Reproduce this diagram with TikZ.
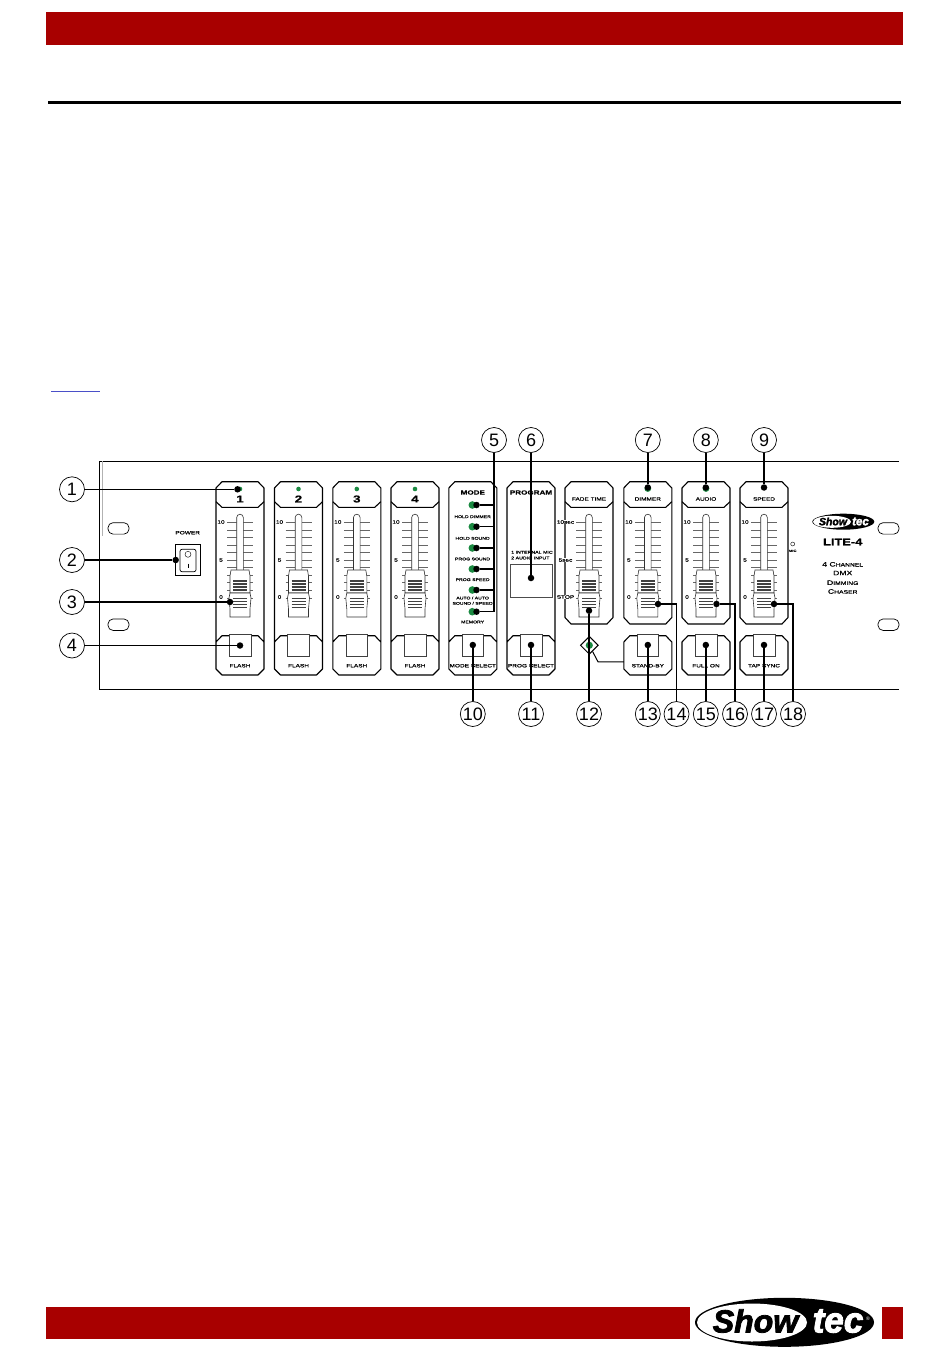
\documentclass[tikz,border=0pt]{standalone}
\usepackage{fontspec}
\setmainfont{Liberation Sans}
\newfontfamily\widefont[FakeStretch=1.35, FakeBold=.5]{Liberation Sans}
\newfontfamily\logofont[BoldItalicFeatures={FakeBold=2.5}]{Liberation Sans}
\usetikzlibrary{shapes.geometric}
\definecolor{barred}{HTML}{A80000}
\definecolor{ledgreen}{HTML}{1B8A42}
\definecolor{linkblue}{HTML}{4A4FC8}
\tikzset{
  callout/.style={draw, line width=.7pt, circle, minimum size=25pt, inner sep=0pt, fill=white, font=\fontsize{18}{18}\selectfont},
  tip/.style={circle, fill=black, minimum size=6.5pt, inner sep=0pt},
  lead/.style={line width=1.4pt},
  outline/.style={line width=1.1pt, line join=round},
  tinytext/.style={inner sep=0pt, text=black, font=\widefont\fontsize{4.8}{5}\selectfont},
  headtext/.style={inner sep=0pt, font=\widefont\bfseries\fontsize{6}{6}\selectfont},
  logotext/.style={inner sep=0pt, font=\logofont\bfseries\itshape},
  grip/.style={line width=1.2pt, black!75},
  pics/faderslider/.style n args={3}{code={
    \foreach \k in {0,...,10}
      \draw[black!60, line width=.5pt] (-13,522.3+\k*7.55) -- (13,522.3+\k*7.55);
    \node[tinytext] (-hi) at (-19,522) {#1};
    \node[tinytext] (-mid) at (-19,560) {#2};
    \node[tinytext] (-lo) at (-19,597) {#3};
    \draw[black!80, fill=white, line width=.6pt] (-3.3,572) -- (-3.3,517.5) arc[start angle=180, end angle=360, radius=3.3] -- (3.3,572);
    \draw[black!80, fill=white, line width=.6pt] (-9,570) -- (9,570) -- (10,576) -- (10,593) -- (-10,593) -- (-10,576) -- cycle;
    \draw[black!80, fill=white, line width=.6pt] (-10,593) -- (10,593) -- (11,598) -- (10,609) -- (10,617) -- (-10,617) -- (-10,609) -- (-11,598) -- cycle;
    \foreach \g in {581,584,587,590,598.5,601.5,604.5,607.5}
      \draw[grip] (-7,\g) -- (7,\g);
  }},
}

\begin{document}
\begin{tikzpicture}[x=1pt, y=-1pt]
    \useasboundingbox (0,0) rectangle (950,1359);
    % page furniture
    \fill[barred] (46,12.5) rectangle (903,44.7);
    \fill[black] (48.3,101.3) rectangle (901,103.6);
    \draw[linkblue, line width=1pt] (51,391.7) -- (100,391.7);
    \fill[barred] (46,1306.7) rectangle (690,1339);
    \fill[barred] (881.5,1306.7) rectangle (903,1339);
    \fill[black] (784.5,1322.3) ellipse[x radius=89.5, y radius=24.5];
    \fill[white] (752,1322.5) ellipse[x radius=55, y radius=19];
    \node[logotext, font=\logofont\bfseries\itshape\fontsize{32}{32}\selectfont] (biglogoa) at (755.5,1321) {Show};
    \node[logotext, text=white, font=\logofont\bfseries\itshape\fontsize{35}{35}\selectfont] (biglogob) at (838,1321) {\scalebox{1}[1.02]{tec}};
    \node[inner sep=0pt, text=white, font=\fontsize{5}{5}\selectfont] (biglogoc) at (868,1319) {®};
    % front panel
    \draw[line width=.8pt] (899,461.3) -- (99.3,461.3) -- (99.3,689.3) -- (899,689.3);
    \draw[black!30, line width=.5pt] (102,461.3) -- (102,536);
    \foreach \sx/\sy in {108/522.7, 108/619, 878/522.7, 878/619}
      \draw[line width=.7pt, rounded corners=5pt] (\sx,\sy) rectangle (\sx+21,\sy+11.4);
    \node[tinytext] (powerlabel) at (187.7,532.7) {POWER};
    \draw[line width=.6pt] (175.3,544.3) rectangle (200.7,575.7);
    \draw[line width=.7pt, rounded corners=2pt] (180,549.3) rectangle (196,571.7);
    \draw[line width=.4pt] (188,554.3) circle (3);
    \draw[line width=.6pt] (188,563.5) -- (188,568);
    % strips with a foot section
    \foreach \n/\x in {1/216, 2/274.5, 3/332.8, 4/391, 5/448.8, 6/507}
      \draw[outline] (\x+6,481.7) -- (\x+42,481.7) -- (\x+48,488) -- (\x+48,669) -- (\x+42,675) -- (\x+6,675) -- (\x,669) -- (\x,488) -- cycle
        (\x,642) -- (\x+6,635.7) -- (\x+42,635.7) -- (\x+48,642);
    % strips with a separate foot box
    \foreach \n/\x in {7/565, 8/623.8, 9/682, 10/740}
      \draw[outline] (\x+6,481.7) -- (\x+42,481.7) -- (\x+48,488) -- (\x+48,617.5) -- (\x+42,624) -- (\x+6,624) -- (\x,617.5) -- (\x,488) -- cycle;
    \foreach \n/\x in {8/623.8, 9/682, 10/740}
      \draw[outline] (\x+6,635.7) -- (\x+42,635.7) -- (\x+48,642) -- (\x+48,669) -- (\x+42,675) -- (\x+6,675) -- (\x,669) -- (\x,642) -- cycle;
    % headers
    \foreach \n/\x in {1/216, 2/274.5, 3/332.8, 4/391, 7/565, 8/623.8, 9/682, 10/740}
      \draw[outline] (\x,501.7) -- (\x+6,507.3) -- (\x+42,507.3) -- (\x+48,501.7);
    % sliders
    \pic (sa) at (240,0) {faderslider={10}{5}{0}};
    \pic (sb) at (298.5,0) {faderslider={10}{5}{0}};
    \pic (sc) at (356.8,0) {faderslider={10}{5}{0}};
    \pic (sd) at (415,0) {faderslider={10}{5}{0}};
    \pic (se) at (589,0) {faderslider={}{}{}};
    \pic (sf) at (647.8,0) {faderslider={10}{5}{0}};
    \pic (sg) at (706,0) {faderslider={10}{5}{0}};
    \pic (sh) at (764,0) {faderslider={10}{5}{0}};
    \node[tinytext, fill=white] (fadehi) at (565.5,522) {10sec};
    \node[tinytext, fill=white] (fademid) at (565.5,560) {5sec};
    \node[tinytext, fill=white] (fadelo) at (565.5,597) {STOP};
    % buttons
    \foreach \x in {240,298.5,356.8,415,472.8,531,647.8,706,764}
      \draw[black!75, fill=white, line width=.6pt] (\x-10.8,634.3) rectangle (\x+10.8,656.7);
    % leds
    \foreach \x/\y/\r in {240/489/2.3, 298.5/489/2.3, 356.8/489/2.3, 415/489/2.3, 647.8/488.5/3.4, 706/488.5/3.4, 472.3/505/3.8, 472.3/526.7/3.8, 472.3/548/3.8, 472.3/569/3.8, 472.3/590/3.8, 472.3/611.7/3.8}
      \fill[ledgreen] (\x,\y) circle (\r);
    % channel headings
    \foreach \n/\x in {1/240, 2/298.5, 3/356.8, 4/415}
      \node[inner sep=0pt, font=\widefont\bfseries\fontsize{10}{10}\selectfont] (num\n) at (\x,499) {\n};
    \foreach \n/\x/\t in {fade/589/FADE TIME, dimmer/647.8/DIMMER, audio/706/AUDIO, speed/764/SPEED}
      \node[tinytext] (head\n) at (\x,499) {\t};
    \foreach \n/\x/\t in {a/240/FLASH, b/298.5/FLASH, c/356.8/FLASH, d/415/FLASH, e/472.8/MODE SELECT, f/531/PROG SELECT, g/647.8/STAND-BY, h/706/FULL ON, i/764/TAP SYNC}
      \node[tinytext] (foot\n) at (\x,665.7) {\t};
    \node[headtext] (modehead) at (472.8,492.5) {MODE};
    \node[headtext] (proghead) at (531,492.5) {PROGRAM};
    \foreach \n/\y/\t in {a/516.7/HOLD DIMMER, b/538.3/HOLD SOUND, c/559/PROG SOUND, d/579.7/PROG SPEED, e/598/{AUTO / AUTO}, f/603.3/{SOUND / SPEED}, g/622/MEMORY}
      \node[tinytext, font=\widefont\fontsize{3.8}{5}\selectfont] (modetext\n) at (472.6,\y) {\t};
    \node[tinytext, anchor=west, font=\widefont\fontsize{3.9}{5}\selectfont] (inputa) at (511,552.3) {1 INTERNAL MIC};
    \node[tinytext, anchor=west, font=\widefont\fontsize{3.9}{5}\selectfont] (inputb) at (511,558) {2 AUDIO INPUT};
    \draw[black!70, line width=.6pt] (510,564.3) rectangle (552,597);
    % stand-by indicator
    \node[diamond, draw, line width=1pt, fill=white, minimum size=18pt, inner sep=0pt] (standbyled) at (589.3,645.3) {};
    \fill[ledgreen] (589.3,645.3) circle (3.6);
    \coordinate (standbybend) at (598,661.8);
    \coordinate (standbyend) at (623.8,661.8);
    \draw[line width=1pt] (standbyled) -- (standbybend) -- (standbyend);
    % right hand side
    \draw[line width=.4pt] (792.7,544) circle (2);
    \node[tinytext, font=\widefont\fontsize{3}{3}\selectfont] (miclabel) at (792.7,550.8) {MIC};
    \fill[black] (843.3,521.7) ellipse[x radius=31, y radius=8];
    \fill[white] (832,521.8) ellipse[x radius=19, y radius=6];
    \node[logotext, font=\logofont\bfseries\itshape\fontsize{10.5}{10.5}\selectfont] (smalllogoa) at (833,521.5) {Show};
    \node[logotext, text=white, font=\logofont\bfseries\itshape\fontsize{11.5}{11.5}\selectfont] (smalllogob) at (860.5,521.5) {\scalebox{1}[1.02]{tec}};
    \node[inner sep=0pt, font=\widefont\bfseries\fontsize{9.5}{10}\selectfont] (litelabel) at (842.7,542) {LITE-4};
    \foreach \n/\y/\t in {a/564.3/{4 C\fontsize{5}{5}\selectfont HANNEL}, b/573/{DMX}, c/582.7/{D\fontsize{5}{5}\selectfont IMMING}, d/591.5/{C\fontsize{5}{5}\selectfont HASER}}
      \node[inner sep=0pt, text=black, font=\widefont\fontsize{6.4}{7}\selectfont] (desc\n) at (842.7,\y) {\t};
    % call-outs, left
    \node[callout] (c1) at (72,489.3) {1};
    \node[callout] (c2) at (72,560) {2};
    \node[callout] (c3) at (72,602) {3};
    \node[callout] (c4) at (72,645.5) {4};
    \node[tip] (d1) at (237.5,489.3) {};
    \node[tip] (d2) at (175.7,560) {};
    \node[tip] (d3) at (230,602) {};
    \node[tip] (d4) at (240,645.5) {};
    \foreach \n in {1,2,3,4}
      \draw[lead] (c\n) -- (d\n);
    % call-outs, top
    \node[callout] (c5) at (494,440) {5};
    \node[callout] (c6) at (531,440) {6};
    \node[callout] (c7) at (647.8,440) {7};
    \node[callout] (c8) at (705.8,440) {8};
    \node[callout] (c9) at (764,440) {9};
    \node[tip] (d6) at (531,578) {};
    \node[tip] (d7) at (647.8,487.5) {};
    \node[tip] (d8) at (705.8,487.5) {};
    \node[tip] (d9) at (764,487.5) {};
    \foreach \n in {6,7,8,9}
      \draw[lead] (c\n) -- (d\n);
    \foreach \n/\y in {a/505, b/526.7, c/548, d/569, e/590, f/611.7} {
      \node[tip] (d5\n) at (476.5,\y) {};
      \draw[lead] (d5\n) -- (d5\n -| c5);
    }
    \draw[lead] (c5) |- (d5f);
    % call-outs, bottom
    \foreach \n/\x/\y in {10/472.8/645, 11/531/645, 12/589/610.7, 13/647.8/645, 15/705.8/645, 17/764/645} {
      \node[callout] (c\n) at (\x,714) {\n};
      \node[tip] (d\n) at (\x,\y) {};
      \draw[lead] (c\n) -- (d\n);
    }
    \foreach \n/\x/\tx in {14/676.5/658, 16/735/716.5, 18/793/774} {
      \node[callout] (c\n) at (\x,714) {\n};
      \node[tip] (d\n) at (\tx,604) {};
      \draw[lead] (c\n) |- (d\n);
    }
\end{tikzpicture}
\end{document}
